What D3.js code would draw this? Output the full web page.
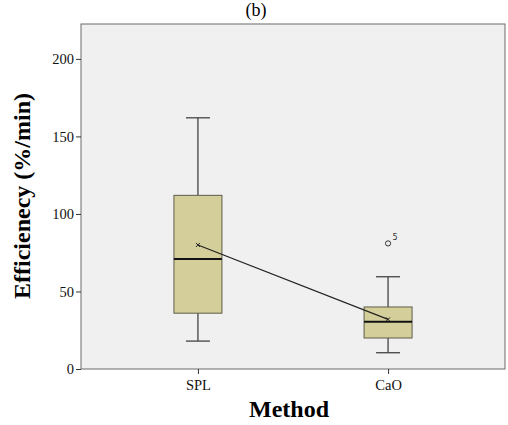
<!DOCTYPE html>
<html>
<head>
<meta charset="utf-8">
<script src="https://cdn.jsdelivr.net/npm/d3@7"></script>
<style>
  body { margin: 0; background: #fff; }
  svg { font-family: "Liberation Serif", "Times New Roman", serif; }
</style>
</head>
<body>
<svg id="chart" width="508" height="425"></svg>
<script>
// box plot summaries
var methods = ['SPL', 'CaO'];
var whiskLow = [18, 10.5];
var q1 = [36, 20];
var median = [71, 30.5];
var q3 = [112, 40];
var whiskHigh = [162, 59.5];
var means = [80, 32];
var outliers = [{ method: 'CaO', value: 81, label: '5' }];
var yTicks = [0, 50, 100, 150, 200];

var svg = d3.select('#chart'),
  plotLeft = 81, plotRight = 505, plotTop = 24, plotBottom = 369;

var x = d3.scalePoint()
  .domain(methods)
  .range([plotLeft, plotRight])
  .padding(0.615);

var y = d3.scaleLinear()
  .domain([0, 222.5])
  .range([plotBottom, plotTop]);

var boxW = 48, capW = 24;

// plot panel
svg.append('rect')
  .attr('x', plotLeft).attr('y', plotTop)
  .attr('width', plotRight - plotLeft).attr('height', plotBottom - plotTop)
  .attr('fill', '#f0f0f0')
  .attr('stroke', '#6b6b6b')
  .attr('stroke-width', 1);

// y axis
var yAxis = svg.append('g')
  .attr('transform', 'translate(' + plotLeft + ',0)')
  .call(d3.axisLeft(y).tickValues(yTicks).tickSize(5).tickPadding(2));
yAxis.select('.domain').remove();
yAxis.selectAll('line').attr('stroke', '#333');
yAxis.selectAll('text')
  .attr('font-family', '"Liberation Serif", serif')
  .attr('font-size', 14.5).attr('fill', '#111');

// x axis
var xAxis = svg.append('g')
  .attr('transform', 'translate(0,' + plotBottom + ')')
  .call(d3.axisBottom(x).tickSize(5).tickPadding(6));
xAxis.select('.domain').remove();
xAxis.selectAll('line').attr('stroke', '#333');
xAxis.selectAll('text')
  .attr('font-family', '"Liberation Serif", serif')
  .attr('font-size', 14.5).attr('fill', '#111');

var g = svg.selectAll('.box')
  .data(methods)
  .enter().append('g')
  .attr('class', 'box');

// whiskers
g.append('line')
  .attr('x1', function (d) { return x(d); })
  .attr('x2', function (d) { return x(d); })
  .attr('y1', function (d, i) { return y(whiskHigh[i]); })
  .attr('y2', function (d, i) { return y(q3[i]); })
  .attr('stroke', '#444').attr('stroke-width', 1.3);
g.append('line')
  .attr('x1', function (d) { return x(d); })
  .attr('x2', function (d) { return x(d); })
  .attr('y1', function (d, i) { return y(q1[i]); })
  .attr('y2', function (d, i) { return y(whiskLow[i]); })
  .attr('stroke', '#444').attr('stroke-width', 1.3);
[whiskHigh, whiskLow].forEach(function (arr) {
  g.append('line')
    .attr('x1', function (d) { return x(d) - capW / 2; })
    .attr('x2', function (d) { return x(d) + capW / 2; })
    .attr('y1', function (d, i) { return y(arr[i]); })
    .attr('y2', function (d, i) { return y(arr[i]); })
    .attr('stroke', '#444').attr('stroke-width', 1.3);
});

// boxes
g.append('rect')
  .attr('x', function (d) { return x(d) - boxW / 2; })
  .attr('y', function (d, i) { return y(q3[i]); })
  .attr('width', boxW)
  .attr('height', function (d, i) { return y(q1[i]) - y(q3[i]); })
  .attr('fill', '#d4cf9a')
  .attr('stroke', '#5e5c4a')
  .attr('stroke-width', 1);

// medians
g.append('line')
  .attr('x1', function (d) { return x(d) - boxW / 2; })
  .attr('x2', function (d) { return x(d) + boxW / 2; })
  .attr('y1', function (d, i) { return y(median[i]); })
  .attr('y2', function (d, i) { return y(median[i]); })
  .attr('stroke', '#111').attr('stroke-width', 2);

// mean line with x markers
svg.append('path')
  .datum(methods)
  .attr('d', d3.line()
    .x(function (d) { return x(d); })
    .y(function (d, i) { return y(means[i]); }))
  .attr('fill', 'none')
  .attr('stroke', '#222')
  .attr('stroke-width', 1.2);

svg.selectAll('.mean')
  .data(methods)
  .enter().append('path')
  .attr('class', 'mean')
  .attr('transform', function (d, i) { return 'translate(' + x(d) + ',' + y(means[i]) + ')'; })
  .attr('d', 'M-2,-2L2,2M-2,2L2,-2')
  .attr('stroke', '#222')
  .attr('stroke-width', 1);

// outliers
svg.selectAll('.outlier')
  .data(outliers)
  .enter().append('circle')
  .attr('class', 'outlier')
  .attr('cx', function (d) { return x(d.method); })
  .attr('cy', function (d) { return y(d.value); })
  .attr('r', 2.6)
  .attr('fill', 'none')
  .attr('stroke', '#333')
  .attr('stroke-width', 1);
svg.selectAll('.outlier-label')
  .data(outliers)
  .enter().append('text')
  .attr('class', 'outlier-label')
  .attr('x', function (d) { return x(d.method) + 4.5; })
  .attr('y', function (d) { return y(d.value) - 3; })
  .attr('font-family', '"DejaVu Sans", sans-serif')
  .attr('font-size', 8)
  .attr('fill', '#333')
  .text(function (d) { return d.label; });

// titles
svg.append('text')
  .attr('x', 256).attr('y', 16)
  .attr('text-anchor', 'middle')
  .attr('font-size', 18)
  .text('(b)');

svg.append('text')
  .attr('x', 289).attr('y', 417)
  .attr('text-anchor', 'middle')
  .attr('font-size', 24)
  .attr('font-weight', 'bold')
  .text('Method');

svg.append('text')
  .attr('transform', 'translate(30,196) rotate(-90)')
  .attr('text-anchor', 'middle')
  .attr('font-size', 24)
  .attr('font-weight', 'bold')
  .text('Efficienecy (%/min)');
</script>
</body>
</html>
